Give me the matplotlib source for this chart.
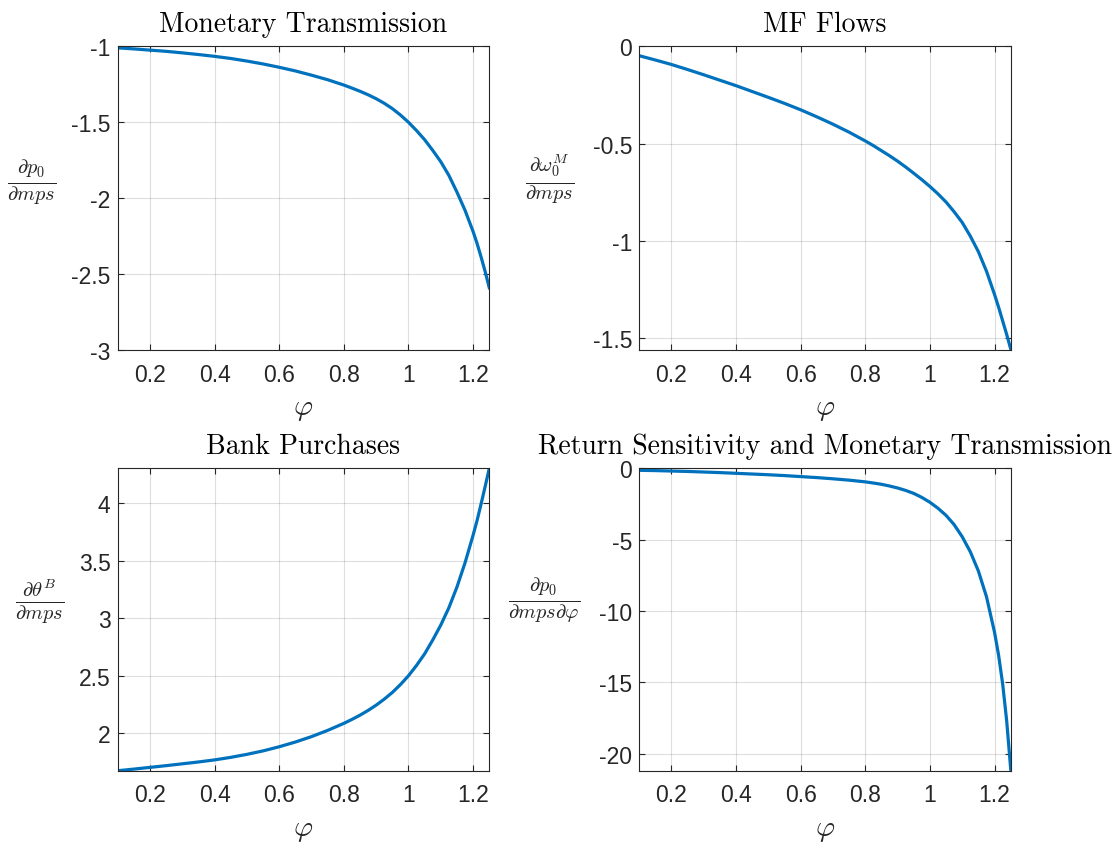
import matplotlib
matplotlib.use('Agg')
import matplotlib.pyplot as plt
from matplotlib.ticker import FuncFormatter

plt.rcParams['mathtext.fontset'] = 'cm'
plt.rcParams['font.family'] = ['Liberation Sans', 'DejaVu Sans']

# return sensitivity grid
phi = [0.1, 0.15, 0.2, 0.25, 0.3, 0.35, 0.4, 0.45, 0.5, 0.55, 0.6, 0.65, 0.7, 0.75,
       0.8, 0.825, 0.85, 0.875, 0.9, 0.925, 0.95, 0.975, 1.0, 1.025, 1.05, 1.075, 1.1,
       1.125, 1.15, 1.175, 1.2, 1.2125, 1.225, 1.2375, 1.25]

# dp0/dmps
dp0 = [-1.010, -1.017, -1.025, -1.033, -1.043, -1.054, -1.066, -1.080, -1.097, -1.116,
       -1.138, -1.162, -1.190, -1.220, -1.255, -1.275, -1.296, -1.319, -1.345, -1.375,
       -1.410, -1.452, -1.500, -1.555, -1.615, -1.685, -1.760, -1.850, -1.960, -2.080,
       -2.220, -2.300, -2.390, -2.485, -2.590]
# d omega_0^M / dmps
domega = [-0.048, -0.070, -0.093, -0.119, -0.146, -0.174, -0.202, -0.232, -0.262, -0.293,
          -0.326, -0.362, -0.400, -0.441, -0.486, -0.510, -0.536, -0.562, -0.590, -0.620,
          -0.652, -0.685, -0.720, -0.758, -0.800, -0.850, -0.905, -0.975, -1.055, -1.155,
          -1.275, -1.340, -1.410, -1.480, -1.555]
# d theta^B / dmps
dtheta = [1.676, 1.690, 1.705, 1.720, 1.736, 1.752, 1.770, 1.792, 1.818, 1.848,
          1.884, 1.925, 1.972, 2.026, 2.087, 2.121, 2.158, 2.199, 2.245, 2.297,
          2.355, 2.423, 2.500, 2.590, 2.690, 2.810, 2.940, 3.090, 3.270, 3.480,
          3.720, 3.850, 3.995, 4.145, 4.300]
# d p0 / dmps dphi
dcross = [-0.14, -0.16, -0.19, -0.22, -0.26, -0.30, -0.35, -0.40, -0.45, -0.51,
          -0.58, -0.65, -0.735, -0.83, -0.95, -1.03, -1.12, -1.24, -1.38, -1.55,
          -1.76, -2.04, -2.38, -2.80, -3.30, -3.95, -4.80, -5.85, -7.20, -9.00,
          -11.5, -13.1, -15.1, -17.7, -21.1]

xticks = [0.2, 0.4, 0.6, 0.8, 1.0, 1.2]

panels = [
    ('Monetary Transmission', r'$\frac{\partial p_0}{\partial mps}$', dp0,
     [-3, -2.5, -2, -1.5, -1], (-3, -1), [0.1056, 0.5846, 0.334, 0.3594], (-0.23, 0.555)),
    ('MF Flows', r'$\frac{\partial \omega_0^M}{\partial mps}$', domega,
     [-1.5, -1, -0.5, 0], (-1.56, 0), [0.5741, 0.5846, 0.334, 0.3594], (-0.24, 0.565)),
    ('Bank Purchases', r'$\frac{\partial \theta^B}{\partial mps}$', dtheta,
     [2, 2.5, 3, 3.5, 4], (1.676, 4.30), [0.1056, 0.0867, 0.334, 0.3579], (-0.21, 0.565)),
    ('Return Sensitivity and Monetary Transmission',
     r'$\frac{\partial p_0}{\partial mps \partial \varphi}$', dcross,
     [-20, -15, -10, -5, 0], (-21.2, 0), [0.5741, 0.0867, 0.334, 0.3579], (-0.255, 0.565)),
]

fig = plt.figure(figsize=(11.13, 8.45), dpi=100)
fmt = FuncFormatter(lambda v, pos: '%g' % v)

for title, ylab, y, yt, ylim, pos, lab_xy in panels:
    ax = fig.add_axes(pos)
    ax.plot(phi, y, color='#0072BD', lw=2.3, solid_joinstyle='round')
    ax.set_xlim(0.1, 1.25)
    ax.set_ylim(*ylim)
    ax.set_xticks(xticks)
    ax.set_yticks(yt)
    ax.xaxis.set_major_formatter(fmt)
    ax.yaxis.set_major_formatter(fmt)
    ax.grid(True, color='#262626', alpha=0.15, lw=0.8)
    ax.tick_params(direction='in', length=4, width=0.8, top=True, right=True,
                   labelsize=16.5, colors='#262626')
    ax.tick_params(axis='x', pad=9)
    ax.tick_params(axis='y', pad=5)
    for s in ax.spines.values():
        s.set_color('#262626')
        s.set_linewidth(0.8)
    ax.set_title(title, fontfamily='cmr10', fontsize=20, pad=11)
    ax.set_xlabel(r'$\varphi$', fontsize=21, labelpad=6, color='#262626')
    ax.set_ylabel(ylab, fontsize=21, rotation=0, ha='center', va='center', color='#262626')
    ax.yaxis.set_label_coords(*lab_xy)

fig.savefig('out.png', dpi=100)
